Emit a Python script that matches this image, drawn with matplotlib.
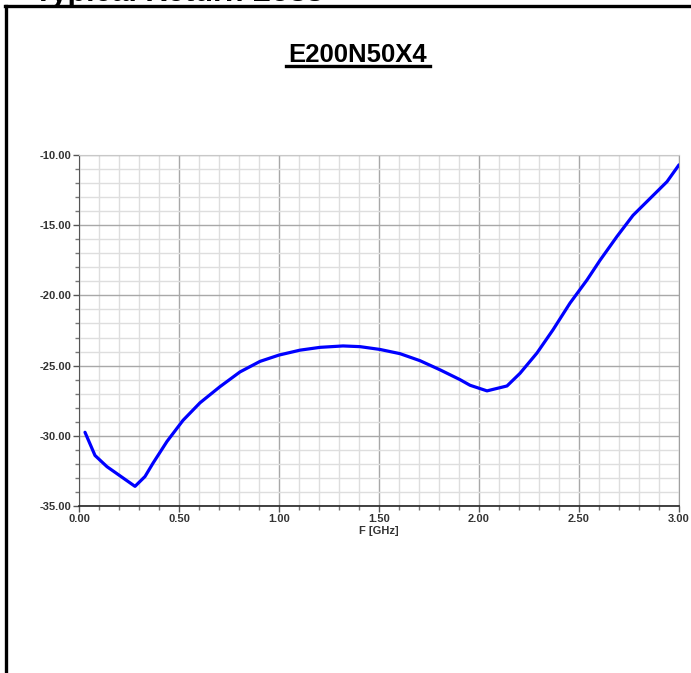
import numpy as np
import matplotlib
matplotlib.use('Agg')
import matplotlib.pyplot as plt
from matplotlib.lines import Line2D
from matplotlib.ticker import MultipleLocator, FormatStrFormatter

plt.rcParams['font.family'] = ['Liberation Sans', 'DejaVu Sans']

# curve
freq_ghz = [0.03, 0.08, 0.14, 0.205, 0.28, 0.33, 0.37, 0.44, 0.52, 0.605,
            0.705, 0.805, 0.905, 1.0, 1.105, 1.205, 1.32, 1.405, 1.505,
            1.605, 1.705, 1.805, 1.905, 1.955, 2.04, 2.14, 2.205, 2.29,
            2.37, 2.455, 2.54, 2.605, 2.69, 2.77, 2.855, 2.94, 3.0]
return_loss_db = [-29.75, -31.4, -32.2, -32.85, -33.6, -32.9, -31.95, -30.4,
                  -28.9, -27.65, -26.5, -25.45, -24.7, -24.25, -23.9, -23.7,
                  -23.6, -23.65, -23.85, -24.15, -24.65, -25.3, -26.0, -26.4,
                  -26.8, -26.45, -25.55, -24.1, -22.45, -20.55, -18.9, -17.5,
                  -15.8, -14.3, -13.1, -11.9, -10.7]

title = 'E200N50X4'
page_heading = 'Typical Return Loss'
xlabel = 'F [GHz]'

fig = plt.figure(figsize=(6.91, 6.73), dpi=100)
W, H = 691.0, 673.0

# page frame (left and top edge of a box)
fig.add_artist(Line2D([6 / W, 6 / W], [0, 1 - 6 / H], color='black', lw=2.4,
                      transform=fig.transFigure))
fig.add_artist(Line2D([5 / W, 1], [1 - 6 / H, 1 - 6 / H], color='black', lw=2.4,
                      transform=fig.transFigure))

# heading, only its lower edge shows above the frame (as in the scan)
fig.text(34 / W, 1 - 1 / H, page_heading, fontsize=22, fontweight='bold',
         ha='left', va='baseline')

# underlined title
fig.text(358 / W, 1 - 62 / H, title, fontsize=18.5, fontweight='bold',
         ha='center', va='baseline')
fig.add_artist(Line2D([286 / W, 430 / W], [1 - 66 / H, 1 - 66 / H],
                      color='black', lw=2.4, transform=fig.transFigure))

ax = fig.add_axes([79 / W, 1 - 506 / H, 600 / W, 351 / H])
ax.plot(freq_ghz, return_loss_db, color='#0000ff', lw=2.3, solid_capstyle='round',
        zorder=3)

ax.set_xlim(0, 3)
ax.set_ylim(-35, -10)
ax.xaxis.set_major_locator(MultipleLocator(0.5))
ax.xaxis.set_minor_locator(MultipleLocator(0.1))
ax.yaxis.set_major_locator(MultipleLocator(5))
ax.yaxis.set_minor_locator(MultipleLocator(1))
ax.xaxis.set_major_formatter(FormatStrFormatter('%.2f'))
ax.yaxis.set_major_formatter(FormatStrFormatter('%.2f'))

ax.grid(which='major', color='#a8a8a8', lw=1.0)
ax.grid(which='minor', color='#dedede', lw=1.0)
ax.set_axisbelow(True)

for lbl in ax.get_xticklabels() + ax.get_yticklabels():
    lbl.set_fontweight('bold')
ax.tick_params(which='major', length=4, width=1, color='#555555',
               labelsize=8, labelcolor='#333333', pad=1.5)
ax.tick_params(which='minor', length=3, width=1, color='#777777')

ax.spines['left'].set_color('#555555')
ax.spines['bottom'].set_color('#222222')
ax.spines['bottom'].set_linewidth(1.2)
ax.spines['top'].set_color('#c8c8c8')
ax.spines['right'].set_color('#a0a0a0')

ax.set_xlabel(xlabel, fontsize=8, fontweight='bold', color='#333333', labelpad=2)

fig.savefig('out.png', dpi=100)
